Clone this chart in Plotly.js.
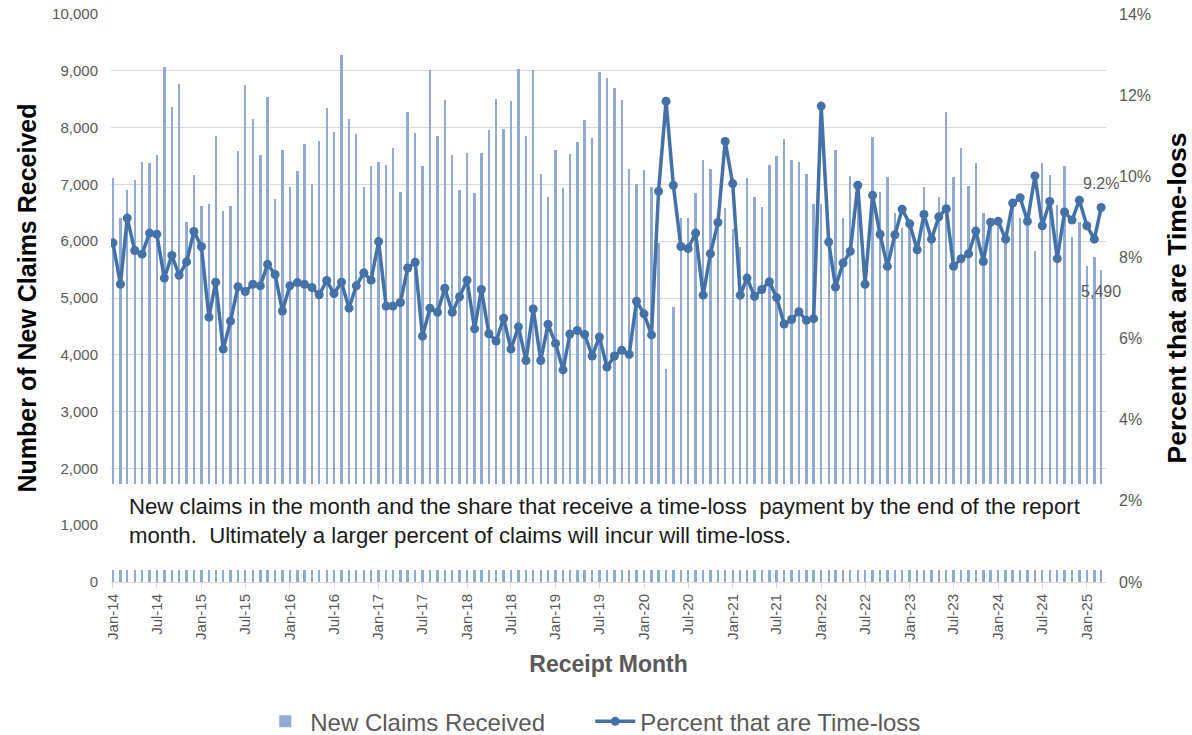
<!DOCTYPE html>
<html>
<head>
<meta charset="utf-8">
<script src="https://cdn.plot.ly/plotly-3.0.1.min.js"></script>
<style>
  html, body { margin: 0; padding: 0; background: #ffffff; }
  #chart { width: 1192px; height: 735px; }
</style>
</head>
<body>
<div id="chart"></div>
<script>
// Receipt months (Jan 2014 - Mar 2025)
const months = [
  '2014-01','2014-02','2014-03','2014-04','2014-05','2014-06','2014-07','2014-08','2014-09','2014-10','2014-11','2014-12',
  '2015-01','2015-02','2015-03','2015-04','2015-05','2015-06','2015-07','2015-08','2015-09','2015-10','2015-11','2015-12',
  '2016-01','2016-02','2016-03','2016-04','2016-05','2016-06','2016-07','2016-08','2016-09','2016-10','2016-11','2016-12',
  '2017-01','2017-02','2017-03','2017-04','2017-05','2017-06','2017-07','2017-08','2017-09','2017-10','2017-11','2017-12',
  '2018-01','2018-02','2018-03','2018-04','2018-05','2018-06','2018-07','2018-08','2018-09','2018-10','2018-11','2018-12',
  '2019-01','2019-02','2019-03','2019-04','2019-05','2019-06','2019-07','2019-08','2019-09','2019-10','2019-11','2019-12',
  '2020-01','2020-02','2020-03','2020-04','2020-05','2020-06','2020-07','2020-08','2020-09','2020-10','2020-11','2020-12',
  '2021-01','2021-02','2021-03','2021-04','2021-05','2021-06','2021-07','2021-08','2021-09','2021-10','2021-11','2021-12',
  '2022-01','2022-02','2022-03','2022-04','2022-05','2022-06','2022-07','2022-08','2022-09','2022-10','2022-11','2022-12',
  '2023-01','2023-02','2023-03','2023-04','2023-05','2023-06','2023-07','2023-08','2023-09','2023-10','2023-11','2023-12',
  '2024-01','2024-02','2024-03','2024-04','2024-05','2024-06','2024-07','2024-08','2024-09','2024-10','2024-11','2024-12',
  '2025-01','2025-02','2025-03'
];

// New claims received per month
const newClaims = [
  7110,6400,6900,7080,7400,7380,7510,9060,8370,8770,6330,7170,
  6620,6650,7850,6530,6620,7590,8750,8160,7510,8540,6750,7610,
  6950,7240,7720,7010,7770,8350,7930,9270,8160,7880,6950,7320,
  7400,7350,7640,6870,8270,7900,7320,9010,7850,8480,7510,6900,
  7560,6850,7560,7960,8510,7980,8460,9040,7850,9010,7190,6770,
  7610,6930,7540,7750,8140,7820,8980,8880,8700,8490,7270,7010,
  7250,6960,5960,3750,4850,6400,6400,6850,7430,7270,6400,6580,
  6220,5900,7120,6770,6610,7350,7500,7800,7430,7400,7190,6660,
  6650,6000,7610,6400,7140,6700,5500,7840,6870,7130,6500,6240,
  6350,5900,6950,6100,6770,8270,7130,7640,6980,7380,6500,6300,
  6350,6000,6600,6400,6340,5830,7380,7170,6630,7320,6080,6330,
  5560,5720,5490
];

// Percent of new claims that are time-loss (as fractions)
const pctTimeLoss = [
  0.0836,0.0734,0.0897,0.0817,0.0808,0.0860,0.0857,0.0749,0.0805,0.0756,0.0789,0.0864,
  0.0827,0.0653,0.0739,0.0574,0.0643,0.0728,0.0716,0.0734,0.0730,0.0783,0.0758,0.0668,
  0.0730,0.0738,0.0734,0.0726,0.0708,0.0743,0.0711,0.0739,0.0675,0.0730,0.0762,0.0744,
  0.0839,0.0680,0.0680,0.0689,0.0774,0.0788,0.0606,0.0675,0.0665,0.0724,0.0665,0.0703,
  0.0744,0.0624,0.0721,0.0612,0.0594,0.0650,0.0574,0.0629,0.0546,0.0673,0.0546,0.0635,
  0.0588,0.0523,0.0611,0.0620,0.0610,0.0557,0.0604,0.0530,0.0557,0.0571,0.0561,0.0692,
  0.0661,0.0609,0.0963,0.1185,0.0978,0.0827,0.0822,0.0860,0.0707,0.0809,0.0886,0.1086,
  0.0982,0.0707,0.0749,0.0704,0.0721,0.0740,0.0701,0.0636,0.0647,0.0666,0.0645,0.0649,
  0.1173,0.0838,0.0727,0.0786,0.0815,0.0978,0.0734,0.0953,0.0857,0.0778,0.0856,0.0919,
  0.0883,0.0819,0.0906,0.0845,0.0900,0.0920,0.0778,0.0797,0.0809,0.0865,0.0790,0.0887,
  0.0889,0.0845,0.0934,0.0947,0.0889,0.1001,0.0878,0.0938,0.0797,0.0912,0.0892,0.0941,
  0.0878,0.0845,0.0923
];

const seriesNames = ['New Claims Received', 'Percent that are Time-loss'];
const noteText = 'New claims in the month and the share that receive a time-loss  payment by the end of the report<br>month.  Ultimately a larger percent of claims will incur will time-loss.';

const barColor = '#90AAD6';
const lineColor = '#4472A8';
const grey = '#595959';
const FONT = 'Liberation Sans, Arial, sans-serif';

const last = months.length - 1;

const traces = [
  {
    type: 'bar',
    name: seriesNames[0],
    x: months,
    y: newClaims,
    width: 8.5e8,
    marker: { color: barColor },
    yaxis: 'y',
    hoverinfo: 'x+y'
  },
  {
    type: 'scatter',
    mode: 'lines+markers',
    name: seriesNames[1],
    x: months,
    y: pctTimeLoss,
    yaxis: 'y2',
    line: { color: lineColor, width: 3.5 },
    marker: { color: lineColor, size: 9 }
  }
];

const layout = {
  width: 1192,
  height: 735,
  margin: { l: 111, r: 86, t: 14, b: 153, autoexpand: false },
  paper_bgcolor: '#ffffff',
  plot_bgcolor: '#ffffff',
  font: { family: FONT, color: grey, size: 14 },
  showlegend: true,
  bargap: 0,
  xaxis: {
    type: 'date',
    range: ['2013-12-24', '2025-03-21'],
    tick0: '2014-01-01',
    dtick: 'M6',
    tickformat: '%b-%y',
    tickangle: -90,
    tickfont: { size: 15, color: grey },
    ticks: 'outside',
    ticklen: 5,
    tickcolor: '#D9D9D9',
    showline: true,
    linecolor: '#D9D9D9',
    linewidth: 1,
    showgrid: false,
    zeroline: false,
    automargin: false,
    title: { text: '<b>Receipt Month</b>', font: { size: 23, color: grey }, standoff: 17 }
  },
  yaxis: {
    range: [0, 10000],
    dtick: 1000,
    tickformat: ',d',
    tickfont: { size: 15, color: grey },
    showgrid: true,
    gridcolor: '#D9D9D9',
    gridwidth: 1,
    zeroline: false,
    showline: false,
    automargin: false,
    ticklabelstandoff: 12,
    title: { text: '<b>Number of New Claims Received</b>', font: { size: 25, color: '#000000' }, standoff: 8 }
  },
  yaxis2: {
    range: [0, 0.14],
    dtick: 0.02,
    tickformat: '.0%',
    tickfont: { size: 16, color: grey },
    overlaying: 'y',
    side: 'right',
    showgrid: false,
    zeroline: false,
    showline: false,
    automargin: false,
    ticklabelstandoff: 12,
    title: { text: '<b>Percent that are Time-loss</b>', font: { size: 26.5, color: '#000000' }, standoff: 20 }
  },
  legend: {
    orientation: 'h',
    x: 0.150,
    xanchor: 'left',
    yref: 'container',
    y: 0.018,
    yanchor: 'middle',
    font: { size: 24, color: grey },
    itemwidth: 40,
    entrywidth: 275,
    entrywidthmode: 'pixels',
    traceorder: 'normal'
  },
  shapes: [
    {
      type: 'rect',
      xref: 'paper', yref: 'paper',
      x0: 0, x1: 1.0,
      y0: 0.0211, y1: 0.1725,
      fillcolor: '#ffffff',
      line: { width: 0 },
      layer: 'above'
    }
  ],
  annotations: [
    {
      xref: 'paper', yref: 'paper',
      x: 0.016, y: 0.107,
      xanchor: 'left', yanchor: 'middle',
      align: 'left',
      showarrow: false,
      text: noteText,
      font: { size: 22.2, color: '#1a1a1a', family: FONT }
    },
    {
      x: months[last], y: pctTimeLoss[last],
      xref: 'x', yref: 'y2',
      text: (pctTimeLoss[last] * 100).toFixed(1) + '%',
      showarrow: false,
      yshift: 24,
      font: { size: 16, color: grey }
    },
    {
      x: months[last], y: newClaims[last],
      xref: 'x', yref: 'y',
      text: newClaims[last].toLocaleString('en-US'),
      showarrow: false,
      yshift: -21,
      font: { size: 16, color: grey }
    }
  ]
};

Plotly.newPlot('chart', traces, layout, { displayModeBar: false, responsive: false });
</script>
</body>
</html>
